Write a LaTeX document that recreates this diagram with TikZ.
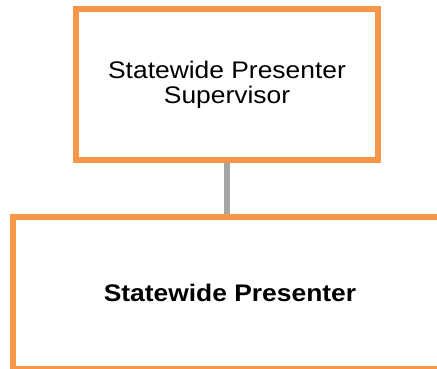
\documentclass[tikz,border=0pt]{standalone}
\usepackage{fontspec}
\setmainfont{Liberation Sans}[FakeStretch=1.1]
\usetikzlibrary{positioning}
\definecolor{boxorange}{HTML}{F79646}
\definecolor{linegray}{HTML}{A5A5A5}
\tikzset{
  orgbox/.style={draw=boxorange, line width=6pt, fill=white, align=center,
    font=\fontsize{24}{25}\selectfont},
  orglink/.style={draw=linegray, line width=6pt},
}

\begin{document}
\begin{tikzpicture}[x=1pt, y=1pt]
\useasboundingbox (0,0) rectangle (437,-368);

% Boxes
\node[orgbox, minimum width=302pt, minimum height=151pt] (sup) at (227,-84.5)
  {Statewide Presenter\\Supervisor};
\node[orgbox, minimum width=434pt, minimum height=152pt] (pres) at (230,-293)
  {\bfseries Statewide Presenter};

% Connector
\draw[orglink] (sup.south -| 227,0) -- (pres.north -| 227,0);

\end{tikzpicture}
\end{document}
